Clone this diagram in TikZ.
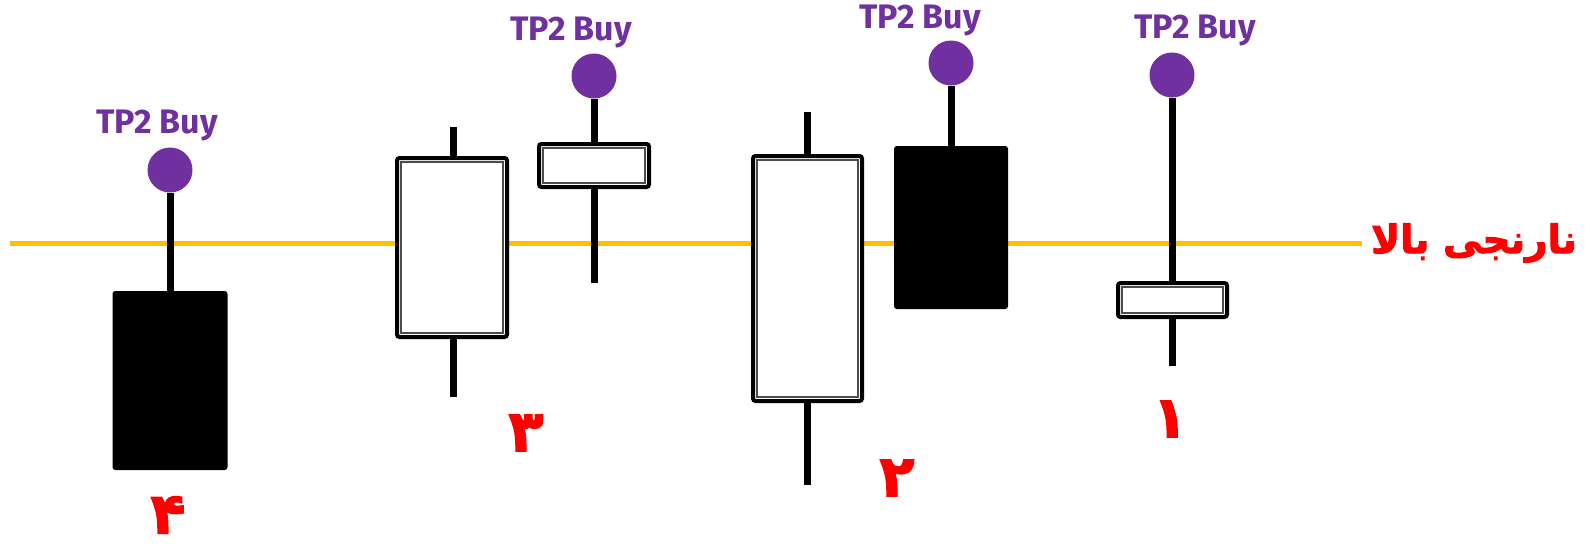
\documentclass[tikz,border=0pt]{standalone}
\usepackage{fontspec}
\setmainfont{Fira Sans}
\newfontfamily\arabicfont[Script=Arabic, FakeBold=2.5]{DejaVu Sans}
\TeXXeTstate=1
\definecolor{tppurple}{HTML}{7030A0}
\definecolor{lineorange}{HTML}{FFC000}
\definecolor{labred}{HTML}{FF0000}
\tikzset{
  blackbody/.style={draw=black, fill=black, line width=2pt, rounded corners=2pt, inner sep=0pt},
  whitebody/.style={draw=black, fill=white, line width=4pt, rounded corners=2.5pt, inner sep=0pt},
  innerline/.style={draw=black!70, line width=1.3pt},
  wick/.style={line width=7pt, black},
  tpdot/.style={circle, fill=tppurple, minimum size=45pt, inner sep=0pt},
  tptext/.style={text=tppurple, font=\fontsize{34}{38}\selectfont\bfseries, inner sep=0pt},
  numlab/.style={text=labred, font=\arabicfont\bfseries\fontsize{57}{60}\selectfont, inner sep=0pt},
}
\newcommand{\innerbox}[1]{\draw[innerline] ([shift={(6pt,-6pt)}]#1.north west) rectangle ([shift={(-6pt,6pt)}]#1.south east);}
\begin{document}
\begin{tikzpicture}[x=1pt,y=-1pt]
\useasboundingbox (0,0) rectangle (1585,550);
% level line
\coordinate (ls) at (10,243);
\coordinate (le) at (1362,243);
\draw[lineorange, line width=5pt] (ls) -- (le);
\node[text=labred, font=\arabicfont\bfseries\fontsize{39}{43}\selectfont, inner sep=0pt] (lvl) at (1474,243) {\beginR نارنجی بالا\endR};

% candle 4
\node[blackbody, minimum width=113pt, minimum height=177pt] (b4) at (170,380.5) {};
\node[tpdot] (c4) at (170,170) {};
\draw[wick] (c4.south) -- (b4.north);
\node[tptext] (t4) at (157,125) {TP2 Buy};
\node[numlab] (n4) at (168,515) {\beginR ۴\endR};

% candle 3
\coordinate (h3) at (453,127);
\coordinate (l3) at (453,397);
\draw[wick] (h3) -- (453,160);
\draw[wick] (453,335) -- (l3);
\node[whitebody, minimum width=110pt, minimum height=179pt] (b3) at (452,247.5) {};
\innerbox{b3}
\node[numlab] (n3) at (526,433) {\beginR ۳\endR};

% small white candle
\node[tpdot] (c5) at (594,76) {};
\coordinate (l5) at (594,283);
\draw[wick] (c5.south) -- (594,146);
\draw[wick] (594,186) -- (l5);
\node[whitebody, minimum width=110pt, minimum height=43pt] (b5) at (594,165.5) {};
\innerbox{b5}
\node[tptext] (t5) at (571,32) {TP2 Buy};

% candle 2
\coordinate (h2) at (807,112);
\coordinate (l2) at (807,485);
\draw[wick] (h2) -- (807,158);
\draw[wick] (807,400) -- (l2);
\node[whitebody, minimum width=109pt, minimum height=245pt] (b2) at (807.5,278.5) {};
\innerbox{b2}
\node[numlab] (n2) at (897,478) {\beginR ۲\endR};

% black candle
\node[blackbody, minimum width=112pt, minimum height=161pt] (b6) at (951,227.5) {};
\node[tpdot] (c6) at (951,63) {};
\draw[wick] (c6.south) -- (b6.north);
\node[tptext] (t6) at (920,20) {TP2 Buy};

% candle 1
\node[tpdot] (c1) at (1172,75) {};
\coordinate (l1) at (1172,366);
\draw[wick] (c1.south) -- (1172,285);
\draw[wick] (1172,316) -- (l1);
\node[whitebody, minimum width=109pt, minimum height=34pt] (b1) at (1172.5,300) {};
\innerbox{b1}
\node[tptext] (t1) at (1195,30) {TP2 Buy};
\node[numlab] (n1) at (1170,419) {\beginR ۱\endR};
\end{tikzpicture}
\end{document}
